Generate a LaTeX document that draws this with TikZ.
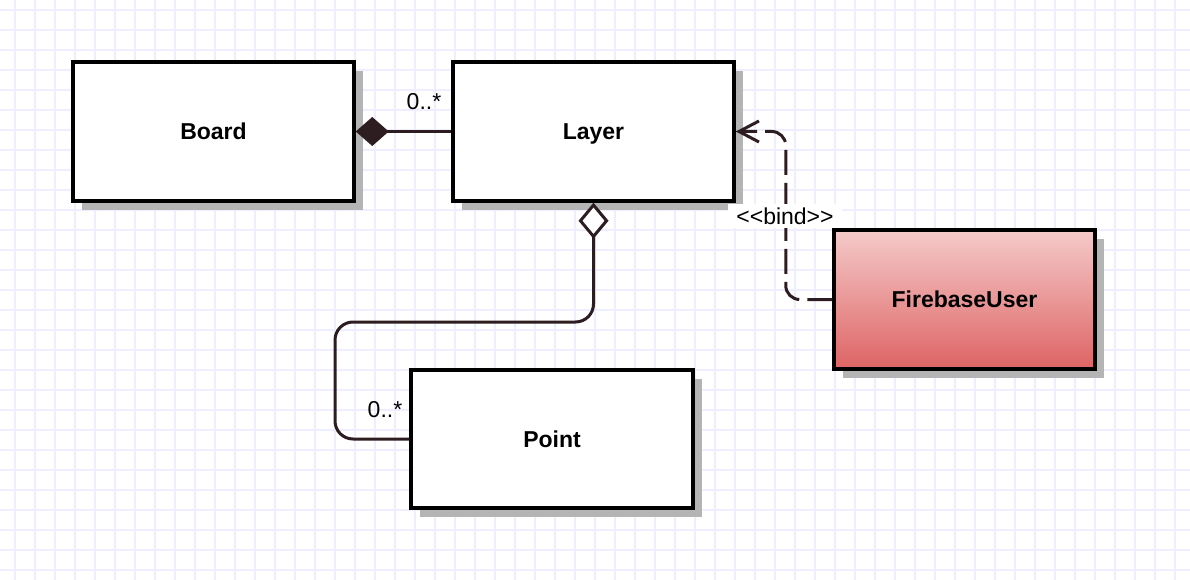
\documentclass[tikz,border=0pt]{standalone}
\usepackage{fontspec}
\setmainfont{Liberation Sans}[Ligatures=TeXOff]
\usetikzlibrary{arrows.meta,shadows,calc}
\definecolor{gridc}{RGB}{238,238,255}
\definecolor{linec}{RGB}{45,28,32}
\definecolor{fbtop}{RGB}{245,202,202}
\definecolor{fbbot}{RGB}{222,100,100}
\definecolor{shadowc}{RGB}{180,180,180}
\begin{document}
\begin{tikzpicture}[x=1pt,y=-1pt,
  classbox/.style={draw=black, line width=3.5pt, fill=white,
    minimum width=281pt, minimum height=139pt, text height=16.5pt, text depth=0pt,
    font=\fontsize{23}{27}\selectfont\bfseries,
    drop shadow={shadow xshift=9pt, shadow yshift=-9pt, fill=shadowc, opacity=1}},
  conn/.style={draw=linec, line width=3pt},
  mult/.style={font=\fontsize{23}{27}\selectfont, inner sep=1pt}
]
\useasboundingbox (0,0) rectangle (1190,580);
\fill[white] (0,0) rectangle (1190,580);
% grid
\foreach \x in {15,35,...,1195} \draw[gridc, line width=1.8pt] (\x,0) -- (\x,580);
\foreach \y in {10,30,...,570} \draw[gridc, line width=1.8pt] (0,\y) -- (1190,\y);
% classes
\node[classbox] (Board) at (213.5,131.5) {Board};
\node[classbox] (Layer) at (593.5,131.5) {Layer};
\node[classbox, minimum width=282pt, minimum height=138pt] (Point) at (552,439) {Point};
\node[classbox, minimum width=261pt, top color=fbtop, bottom color=fbbot] (FB) at (964.5,299.5) {FirebaseUser};
% connectors
\draw[conn, {Diamond[length=33pt,width=29pt,fill=linec]}-] (Board.east) -- (Layer.west);
\node[mult] (m1) at (424,102) {0..*};
\draw[conn, rounded corners=18pt, {Diamond[open,length=36pt,width=30pt,fill=white]}-]
  (Layer.south) |- (335,322) |- (Point.west);
\node[mult] (m2) at (385,410) {0..*};
\draw[conn, dash pattern=on 25pt off 8pt, rounded corners=14pt,
  -{Straight Barb[length=20pt,width=21pt]}]
  (FB.west) -| ($(Layer.east)+(50,0)$) -- (Layer.east);
\node[mult, fill=white, inner xsep=8pt, inner ysep=4pt] (bind) at (785,216)
  {<\kern0pt<bind>\kern0pt>};
\end{tikzpicture}
\end{document}
